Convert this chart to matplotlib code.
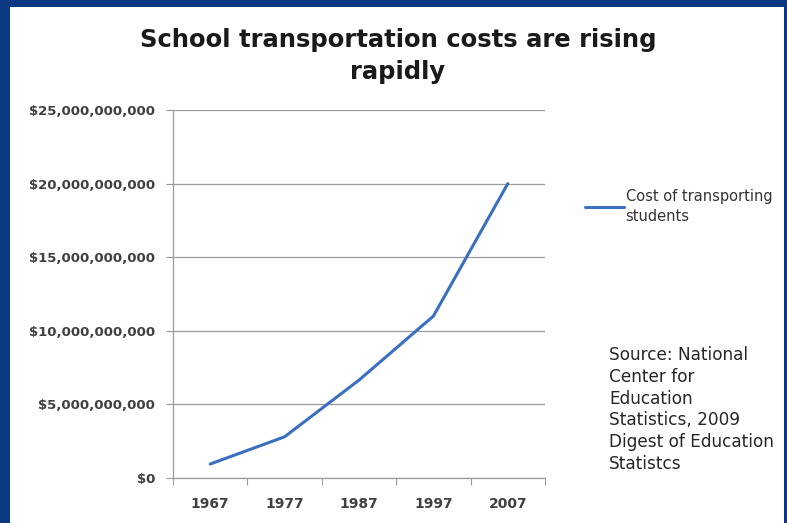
import matplotlib.pyplot as plt
from matplotlib.patches import Rectangle
from matplotlib.ticker import FuncFormatter

plt.rcParams['font.family'] = ['DejaVu Sans']

years = ['1967', '1977', '1987', '1997', '2007']
costs = [0.95e9, 2.8e9, 6.65e9, 11.0e9, 20.0e9]
yticks = [0, 5e9, 10e9, 15e9, 20e9, 25e9]

border = '#0b3a82'
text_col = '#404040'
grid_col = '#9a9a9a'

fig = plt.figure(figsize=(7.87, 5.23), dpi=100)

# blue frame round the slide
fig.patches.append(Rectangle((0, 0), 1, 1, transform=fig.transFigure,
                             facecolor=border, edgecolor='none', zorder=-2))
fig.patches.append(Rectangle((10 / 787, 0), (784 - 10) / 787, 1 - 7 / 523,
                             transform=fig.transFigure, facecolor='white',
                             edgecolor='none', zorder=-1))

ax = fig.add_axes([173 / 787, 1 - 478 / 523, (545 - 173) / 787, (478 - 110) / 523])
ax.set_facecolor('none')

x = list(range(len(years)))
line, = ax.plot(x, costs, color='#3a6fc0', lw=2.2, solid_capstyle='round')

ax.set_xlim(-0.5, len(years) - 0.5)
ax.set_ylim(0, 25e9)
ax.set_yticks(yticks)
ax.yaxis.set_major_formatter(FuncFormatter(lambda v, p: '${:,.0f}'.format(v)))
ax.set_xticks([i - 0.5 for i in range(len(years) + 1)])
ax.set_xticklabels([])
ax.set_xticks(x, minor=True)
ax.set_xticklabels(years, minor=True)
ax.tick_params(axis='x', which='minor', length=0, pad=14)
ax.tick_params(axis='x', which='major', length=5, color=grid_col)
ax.tick_params(axis='y', length=5, color=grid_col, pad=8)
for lab in ax.get_xticklabels(minor=True):
    lab.set_fontsize(10)
for lab in ax.get_yticklabels():
    lab.set_fontsize(9.5)
for lab in ax.get_xticklabels(minor=True) + ax.get_yticklabels():
    lab.set_fontweight('bold')
    lab.set_color(text_col)

ax.grid(axis='y', color=grid_col, lw=0.9)
ax.set_axisbelow(True)
for s in ['top', 'right']:
    ax.spines[s].set_visible(False)
for s in ['left', 'bottom']:
    ax.spines[s].set_color(grid_col)
    ax.spines[s].set_linewidth(0.9)

fig.text(398 / 787, 1 - 56 / 523, 'School transportation costs are rising\nrapidly',
         ha='center', va='center', fontsize=17.5, fontweight='bold', color='#1a1a1a',
         linespacing=1.45)

ax.legend([line], ['Cost of transporting\nstudents'], loc='upper left',
          bbox_to_anchor=(579 / 787, 1 - 183 / 523), bbox_transform=fig.transFigure,
          frameon=False, fontsize=10.5, handlelength=2.7, handletextpad=0.1,
          labelcolor='#333333', borderaxespad=0, labelspacing=0)
plt.setp(ax.get_legend().get_texts(), linespacing=1.4)

fig.text(609 / 787, 1 - 346 / 523,
         'Source: National\nCenter for\nEducation\nStatistics, 2009\nDigest of Education\nStatistcs',
         ha='left', va='top', fontsize=12.2, color='#262626', linespacing=1.27)

fig.savefig('out.png', dpi=100)
